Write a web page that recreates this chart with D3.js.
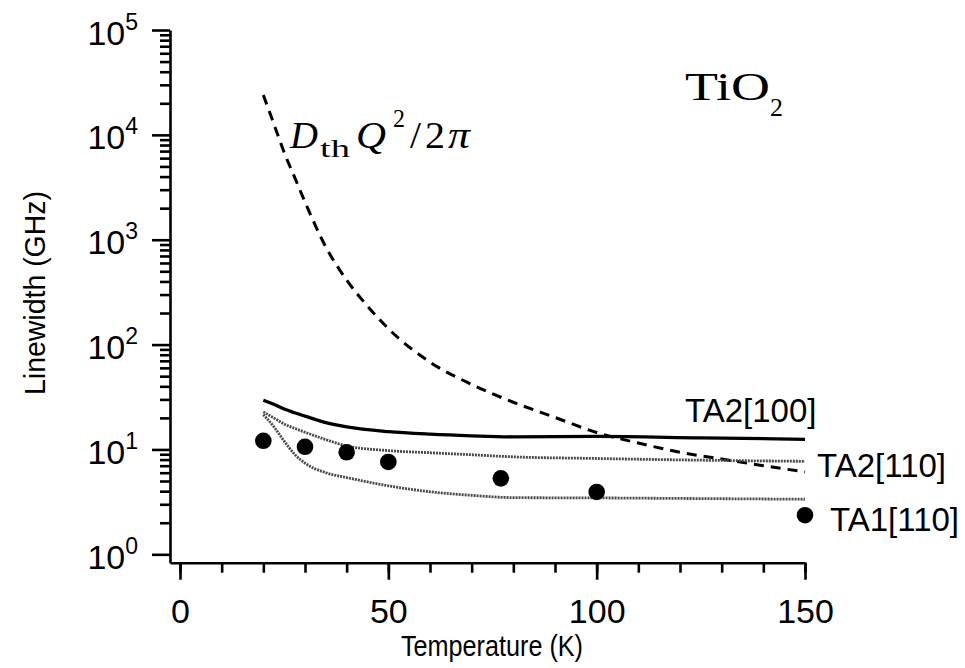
<!DOCTYPE html>
<html>
<head>
<meta charset="utf-8">
<script src="https://cdn.jsdelivr.net/npm/d3@7"></script>
<style>
  body { margin: 0; background: #fff; }
  svg { display: block; }
  .axis path, .axis line { stroke: #000; stroke-width: 2.6; }
  text { font-family: "Liberation Sans", Arial, Helvetica, sans-serif; fill: #000; }
  .serif { font-family: "Liberation Serif", "DejaVu Serif", serif; }
</style>
</head>
<body>
<svg id="chart" width="965" height="668"></svg>
<script>
// thermal diffusion term D_th Q^2 / 2pi (dashed)
var dthTemps = [20, 22.5, 25, 27.5, 30, 35, 40, 45, 50, 60, 70, 80, 90, 100, 110, 120, 130, 140, 150];
var dthWidth = [24000, 12800, 6800, 3950, 2290, 853, 412, 233, 142, 68, 41.7, 28.2, 20.2, 14.5, 11.5, 9.4, 8.1, 7.0, 6.1];

// calculated linewidths
var calcTemps = [20, 22.5, 25, 27.5, 30, 35, 40, 50, 60, 70, 80, 100, 125, 150];
var ta2_100 = [29.5, 27, 24.3, 22.4, 20.8, 18.0, 16.4, 14.8, 14.0, 13.5, 13.2, 13.3, 12.9, 12.5];
var ta2_110 = [22.8, 20.0, 17.5, 15.9, 14.6, 12.4, 10.8, 9.75, 9.3, 8.9, 8.5, 8.2, 7.9, 7.7];
var ta1_110 = [21.5, 16.5, 12.0, 9.0, 7.4, 6.0, 5.4, 4.5, 3.95, 3.65, 3.47, 3.45, 3.4, 3.35];

// measured points
var expTemps = [20, 30, 40, 50, 77, 100, 150];
var expWidth = [12.1, 10.6, 9.4, 7.6, 5.3, 3.93, 2.36];

var xMajor = [0, 50, 100, 150];
var yExponents = [0, 1, 2, 3, 4, 5];
var curveLabels = ['TA2[100]', 'TA2[110]', 'TA1[110]'];

var svg = d3.select('#chart');

var x = d3.scaleLinear().domain([-2.4, 150]).range([170, 805]);
var y = d3.scaleLog().domain([Math.pow(10, -0.08), 1e5]).range([562.7, 30]);

// x axis
svg.append('g')
  .attr('class', 'axis')
  .attr('transform', 'translate(0,562.7)')
  .call(d3.axisBottom(x).tickValues(d3.range(0, 151, 10)).tickSize(10).tickSizeOuter(0).tickFormat(''));

var xg = svg.append('g')
  .attr('class', 'axis')
  .attr('transform', 'translate(0,562.7)')
  .call(d3.axisBottom(x).tickValues(xMajor).tickSize(17).tickPadding(19).tickSizeOuter(0));
xg.select('.domain').remove();
xg.attr('font-size', 34).attr('font-family', null);

// y axis
var yMinor = [];
for (var d = 0; d < 5; d++) {
  for (var k = 2; k <= 9; k++) yMinor.push(k * Math.pow(10, d));
}
svg.append('g')
  .attr('class', 'axis')
  .attr('transform', 'translate(170,0)')
  .call(d3.axisLeft(y).tickValues(yMinor).tickSize(10).tickSizeOuter(0).tickFormat(''));

var yg = svg.append('g')
  .attr('class', 'axis')
  .attr('transform', 'translate(170,0)')
  .call(d3.axisLeft(y).tickValues(yExponents.map(function(e) { return Math.pow(10, e); }))
    .tickSize(18).tickSizeOuter(0).tickFormat(''));
yg.select('.domain').remove();
yg.selectAll('.tick').each(function(v) {
  var t = d3.select(this).append('text')
    .attr('x', -32)
    .attr('y', 14)
    .attr('text-anchor', 'end')
    .attr('fill', '#000')
    .attr('font-family', '"Liberation Sans", Arial, sans-serif');
  t.append('tspan').attr('font-size', 34).text('10');
  t.append('tspan').attr('font-size', 23).attr('dy', -15).text(Math.round(Math.log10(v)));
});

// axis titles
svg.append('text')
  .attr('x', 492).attr('y', 656)
  .attr('text-anchor', 'middle')
  .attr('font-size', 29)
  .attr('textLength', 182)
  .attr('lengthAdjust', 'spacingAndGlyphs')
  .text('Temperature (K)');

svg.append('text')
  .attr('transform', 'translate(45,293) rotate(-90)')
  .attr('text-anchor', 'middle')
  .attr('font-size', 29)
  .attr('textLength', 204)
  .attr('lengthAdjust', 'spacingAndGlyphs')
  .text('Linewidth (GHz)');

// curves
var line = d3.line()
  .x(function(p) { return x(p[0]); })
  .y(function(p) { return y(p[1]); })
  .curve(d3.curveMonotoneX);

function pairs(xs, ys) {
  return xs.map(function(t, i) { return [t, ys[i]]; });
}

svg.append('path')
  .attr('d', line(pairs(dthTemps, dthWidth)))
  .attr('fill', 'none')
  .attr('stroke', '#000')
  .attr('stroke-width', 3)
  .attr('stroke-dasharray', '10,7');

svg.append('path')
  .attr('d', line(pairs(calcTemps, ta2_100)))
  .attr('fill', 'none')
  .attr('stroke', '#000')
  .attr('stroke-width', 3.3);

[ta2_110, ta1_110].forEach(function(s) {
  svg.append('path')
    .attr('d', line(pairs(calcTemps, s)))
    .attr('fill', 'none')
    .attr('stroke', '#4a4a4a')
    .attr('stroke-width', 2.8)
    .attr('stroke-dasharray', '2,1');
});

svg.selectAll('circle.pt')
  .data(pairs(expTemps, expWidth))
  .enter()
  .append('circle')
  .attr('class', 'pt')
  .attr('cx', function(p) { return x(p[0]); })
  .attr('cy', function(p) { return y(p[1]); })
  .attr('r', 8.3)
  .attr('fill', '#000');

// curve labels
var labelPos = [[685, 421.7], [817, 477], [830, 531]];
curveLabels.forEach(function(s, i) {
  svg.append('text')
    .attr('x', labelPos[i][0]).attr('y', labelPos[i][1])
    .attr('font-size', 33)
    .text(s);
});

// TiO2
svg.append('text')
  .attr('class', 'serif')
  .attr('x', 685).attr('y', 100)
  .attr('font-size', 41)
  .attr('textLength', 85)
  .attr('lengthAdjust', 'spacingAndGlyphs')
  .text('TiO');
svg.append('text')
  .attr('class', 'serif')
  .attr('x', 770).attr('y', 116)
  .attr('font-size', 26)
  .text('2');

// D_th Q^2 / 2pi, each piece placed on its own
var mathParts = [
  {s: 'D', x: 290, y: 148, size: 38, italic: true, len: 28},
  {s: 'th', x: 320, y: 157, size: 25, italic: false, len: 30},
  {s: 'Q', x: 356, y: 148, size: 38, italic: true, len: 30},
  {s: '2', x: 393, y: 127, size: 25, italic: false, len: 12},
  {s: '/', x: 410, y: 148, size: 38, italic: false, len: 11},
  {s: '2', x: 425, y: 148, size: 38, italic: false, len: 20},
  {s: 'π', x: 448, y: 148, size: 38, italic: true, len: 22}
];
mathParts.forEach(function(p) {
  svg.append('text')
    .attr('class', 'serif')
    .attr('x', p.x).attr('y', p.y)
    .attr('font-size', p.size)
    .attr('font-style', p.italic ? 'italic' : null)
    .attr('textLength', p.len)
    .attr('lengthAdjust', 'spacingAndGlyphs')
    .text(p.s);
});
</script>
</body>
</html>
